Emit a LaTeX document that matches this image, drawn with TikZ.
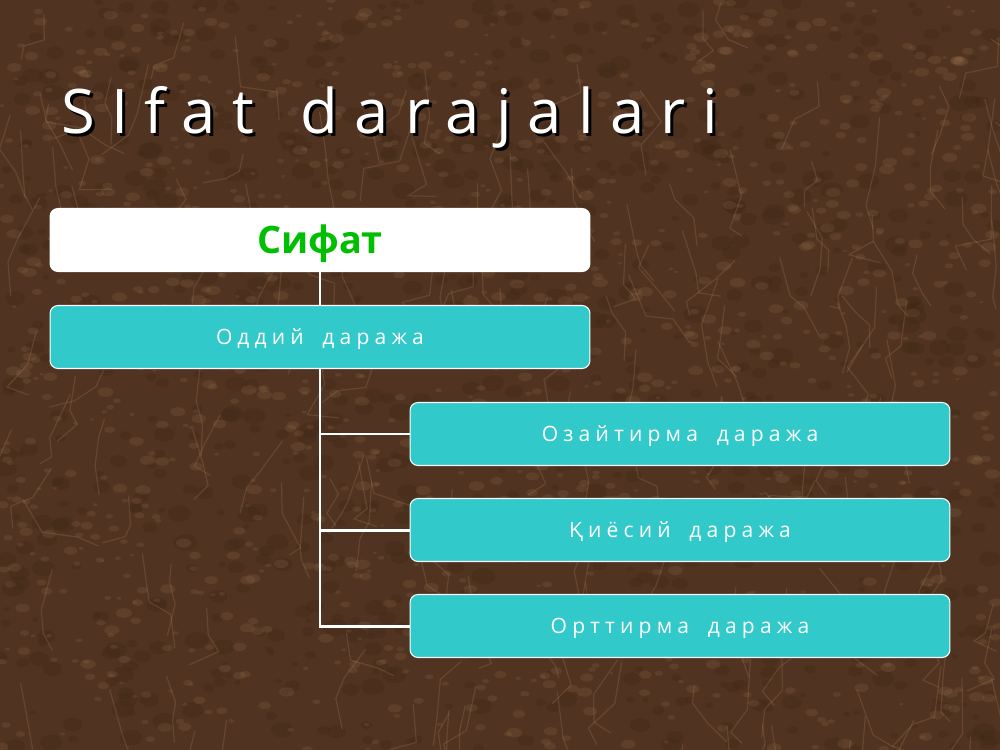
\documentclass[tikz,border=0pt]{standalone}
\usepackage{fontspec}
\setmainfont{Open Sans}
\newfontfamily\titlefont{Open Sans}[LetterSpace=26.5,WordSpace=1.45]
\newfontfamily\boxfont{Open Sans}[LetterSpace=24.5,WordSpace=1.75]
\usepackage{xcolor}
\usetikzlibrary{positioning}
\definecolor{marble}{RGB}{80,51,32}
\definecolor{darkspot}{RGB}{45,26,13}
\definecolor{vein}{RGB}{180,140,100}
\definecolor{teal}{RGB}{50,201,202}
\definecolor{sgreen}{RGB}{0,190,0}

\begin{document}
\begin{tikzpicture}[x=0.02cm,y=-0.02cm,%
  box/.style={draw=white,line width=0.6pt,rounded corners=4.5pt,minimum width=10.8cm,minimum height=1.26cm,inner sep=0pt,text depth=0pt},%
  level/.style={box,fill=teal,text=white,text height=8.6pt,font=\boxfont\fontsize{12}{14}\selectfont},%
  conn/.style={draw=white,line width=1.7pt},%
  heading/.style={anchor=base west,inner sep=0pt,font=\titlefont\fontsize{35}{40}\selectfont},%
  veinline/.style={vein,line width=0.7pt,opacity=0.22,line cap=round}%
  ]
  \useasboundingbox (0,0) rectangle (1000,750);
  \fill[marble] (0,0) rectangle (1000,750);
  % marble texture
  \pgfmathsetseed{11}
  \foreach \i in {1,...,900}{
    \pgfmathsetmacro{\xa}{rnd*1000}
    \pgfmathsetmacro{\ya}{rnd*750}
    \pgfmathsetmacro{\ra}{3+rnd*9}
    \fill[darkspot,opacity=0.14] (\xa,\ya) circle[x radius=\ra,y radius=0.7*\ra];
  }
  \foreach \i in {1,...,1300}{
    \pgfmathsetmacro{\xa}{rnd*1000}
    \pgfmathsetmacro{\ya}{rnd*750}
    \pgfmathsetmacro{\ra}{2+rnd*6}
    \fill[vein,opacity=0.14] (\xa,\ya) circle[x radius=\ra,y radius=0.6*\ra];
  }
  \foreach \i in {1,...,180}{
    \pgfmathsetmacro{\xa}{rnd*1000}
    \pgfmathsetmacro{\ya}{rnd*750}
    \pgfmathsetmacro{\ang}{60+rnd*60}
    \draw[veinline] (\xa,\ya) -- ++(\ang:{15+rnd*40}) -- ++({\ang+70-rnd*140}:{10+rnd*30}) -- ++({\ang+70-rnd*140}:{10+rnd*25});
  }
%
  \node (titleshadow) [heading,text=black] at (64,136) {SIfat darajalari};
  \node (title)       [heading,text=white] at (61,133) {SIfat darajalari};
%
  \node (sifat)     [box,fill=white,text=sgreen,text height=15.4pt,font=\fontsize{21.5}{24}\selectfont\bfseries] at (320,240) {Сифат};
  \node (oddiy)     [level] at (320,337) {Оддий даража};
  \node (ozaytirma) [level] at (680,434) {Озайтирма даража};
  \node (qiyosiy)   [level] at (680,530) {Қиёсий даража};
  \node (orttirma)  [level] at (680,626) {Орттирма даража};
%
  \draw[conn] (sifat) -- (oddiy);
  \draw[conn] (oddiy.south) |- (orttirma.west);
  \draw[conn] (oddiy.south |- ozaytirma.west) -- (ozaytirma.west);
  \draw[conn] (oddiy.south |- qiyosiy.west) -- (qiyosiy.west);
%
\end{tikzpicture}
\end{document}
